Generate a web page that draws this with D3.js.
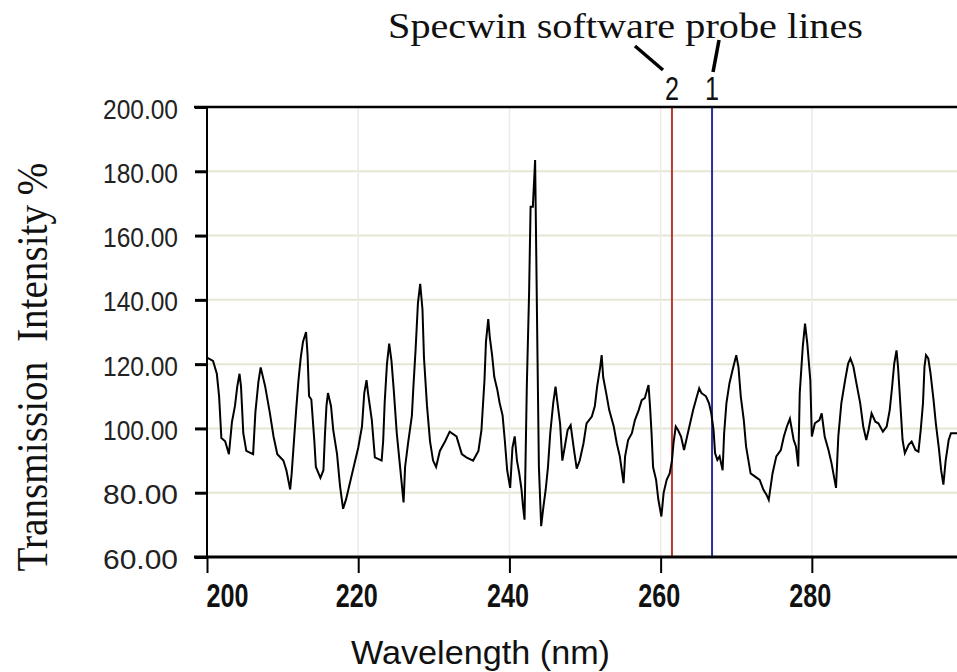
<!DOCTYPE html>
<html lang="en">
<head>
<meta charset="utf-8">
<title>Specwin transmission spectrum</title>
<script src="https://d3js.org/d3.v7.min.js"></script>
<style>
  body { margin: 0; background: #fff; }
  svg { display: block; }
</style>
</head>
<body>
<div id="chart"></div>
<script>

// spectrum (nm, %)
var wavelengths = [
  200.0,200.8,201.3,201.6,201.9,202.4,202.9,203.3,203.7,204.0,204.3,204.5,204.8,
  205.2,206.1,206.4,206.8,207.1,207.7,208.3,208.8,209.3,210.1,210.5,211.0,
  211.2,211.5,211.8,212.1,212.4,212.7,213.1,213.3,213.5,213.8,214.2,214.4,
  215.0,215.4,215.6,215.8,216.0,216.4,216.7,217.2,217.6,218.0,218.4,218.9,219.4,
  220.0,220.5,220.8,221.1,221.3,221.8,222.2,223.1,223.3,223.5,223.8,224.1,
  224.4,224.7,225.1,225.5,226.0,226.2,226.6,227.1,227.3,227.6,227.9,228.2,228.5,228.7,
  229.1,229.5,229.9,230.3,230.8,231.5,232.1,233.0,233.7,234.3,235.2,235.9,
  236.3,236.7,236.9,237.2,237.4,237.7,238.0,238.4,238.7,239.1,239.4,239.7,240.1,
  240.4,240.7,241.0,241.3,241.6,241.8,242.0,242.3,242.6,242.8,243.1,243.4,243.5,243.7,243.9,
  244.2,244.5,244.8,245.1,245.4,245.8,246.1,246.3,246.7,247.0,247.3,247.7,248.1,
  248.5,248.9,249.3,249.8,250.2,250.9,251.3,251.6,252.0,252.2,252.4,252.8,253.2,253.8,
  254.2,254.6,255.1,255.3,255.7,256.2,256.6,257.1,257.5,257.9,258.4,258.6,258.8,259.0,
  259.4,259.7,260.1,260.4,260.8,261.2,261.5,261.7,262.0,262.3,262.7,263.1,263.5,263.9,
  264.3,264.8,265.1,265.4,266.0,266.4,266.7,267.0,267.2,267.5,267.8,268.2,268.4,
  268.7,269.1,269.5,270.0,270.3,270.6,271.0,271.3,271.6,271.9,272.5,273.1,273.6,274.0,274.3,
  274.8,275.3,275.9,276.3,276.7,277.1,277.6,277.9,278.2,278.4,278.8,279.1,279.4,279.8,280.0,
  280.4,281.0,281.3,281.7,282.2,282.6,283.2,283.5,283.9,284.4,284.8,285.1,285.5,285.9,
  286.4,286.8,287.2,287.5,287.9,288.4,288.8,289.4,289.9,290.3,290.6,290.9,291.2,291.4,291.7,
  292.0,292.3,292.8,293.2,293.7,294.1,294.4,294.7,294.9,295.1,295.4,295.7,296.1,296.4,296.8,
  297.1,297.4,297.7,298.1,298.4,299.2
]
var intensity = [
  122,121,117,110,97,96,92,102,107,113,117,113,98.5,
  93,92,105,114.5,119,113,105,97.5,92,90,87,81,
  86,96,106,115,122,127,130,123,110,109,96,88,
  84.6,87,98,107,111,107,99.5,92,82,75,78,83,88,
  94,100.6,111,115,111,102.6,91,90,96,108,120,126.4,
  121,112,98.5,89,77,88,95.5,104,113,125,139,145,137,122,
  107,96,90,88,93,96,99,97.5,92,91,90,93,
  99.5,115,127,134,128.5,123,116,112,108,104,96,87,81.5,
  94,97.5,90,86,81,75.7,71.6,113,142,169,169,183.5,164,125,88,
  69.6,75.7,81,88,98.5,108,113,109,101.6,90,94,99.5,101,
  94,87.5,90,95.4,101.6,103.7,107,113,119,122.8,116,111,105.7,100.6,
  95.4,91.3,83,91.3,96.4,98.5,102.6,105.7,108.8,109.4,113.5,106.8,98.5,88,
  84,77.8,72.6,80,84,86,90,95.4,100.6,99.5,97.5,93.3,97.5,101.6,
  105.7,110,112.5,111,110,107.8,104.7,99.5,92.3,90.2,91.3,87,98.5,
  107.8,114,118,122.8,119,110,102.6,94.4,90.2,86,85,84,80.9,79.4,77.8,
  86,91.3,93.3,97.5,100.6,103,96.4,94.4,88.2,111,125.4,132.6,126.4,115,97.5,
  101.6,102.6,104.7,97.5,93.3,89.2,81.5,97.5,107.8,115,120.2,121.8,119.2,114,
  107.8,100.6,96.4,99.5,104.7,102.1,101.6,99,100.6,105.7,112.5,120.2,124.3,119.2,107.8,
  96.4,92.3,94.9,95.9,93.3,92.8,99.5,107.8,119.2,122.8,121.8,117.1,108.8,101.6,93.9,
  87,82.5,90,96.4,98.5,98.5
]

var xTicks = [200, 220, 240, 260, 280]
var yTicks = [60, 80, 100, 120, 140, 160, 180, 200]

// the two probe cursors, label 2 is the red one
var probeNm = [261.5, 266.8]
var probeLabels = ["2", "1"]
var probeColors = ["#b83a36", "#2c2f9a"]

var width = 957, height = 672
// (window.top is read-only, so no "top" here)
var plotL = 207, plotR = 957, plotT = 107, plotB = 557

var svg = d3.select("#chart").append("svg")
    .attr("width", width)
    .attr("height", height)

var x = d3.scaleLinear().domain([200, 299.2]).range([plotL, plotR])
var y = d3.scaleLinear().domain([60, 200]).range([plotB, plotT])

// grid
svg.append("g").selectAll("line")
  .data(yTicks.slice(1, -1))
  .enter().append("line")
    .attr("x1", plotL).attr("x2", plotR)
    .attr("y1", function(d) { return y(d) }).attr("y2", function(d) { return y(d) })
    .attr("stroke", "#e6e6d4")
    .attr("stroke-width", 2)
svg.append("g").selectAll("line")
  .data(xTicks.slice(1))
  .enter().append("line")
    .attr("x1", function(d) { return x(d) }).attr("x2", function(d) { return x(d) })
    .attr("y1", plotT).attr("y2", plotB)
    .attr("stroke", "#ecebe4")
    .attr("stroke-width", 1.5)

// probe lines
svg.append("g").selectAll("line")
  .data(probeNm)
  .enter().append("line")
    .attr("x1", function(d) { return x(d) }).attr("x2", function(d) { return x(d) })
    .attr("y1", plotT).attr("y2", plotB)
    .attr("stroke", function(d, i) { return probeColors[i] })
    .attr("stroke-width", 2)

// spectrum
var line = d3.line()
    .x(function(d) { return x(d[0]) })
    .y(function(d) { return y(d[1]) })
svg.append("path")
    .datum(d3.zip(wavelengths, intensity))
    .attr("d", line)
    .attr("fill", "none")
    .attr("stroke", "#000")
    .attr("stroke-width", 2)
    .attr("stroke-linejoin", "miter")

// axes
var xAxis = svg.append("g")
    .attr("transform", "translate(0," + plotB + ")")
    .call(d3.axisBottom(x).tickValues(xTicks).tickSize(16).tickSizeOuter(0).tickFormat(d3.format("d")))
xAxis.select(".domain").remove()
xAxis.selectAll(".tick line").attr("stroke", "#000").attr("stroke-width", 2)
xAxis.selectAll(".tick text")
    .attr("y", 50).attr("dy", null)
    .attr("x", function(d, i) { return i == 0 ? -1 : -2 })
    .attr("text-anchor", function(d, i) { return i == 0 ? "start" : "middle" })
    .attr("textLength", 42)
    .attr("lengthAdjust", "spacingAndGlyphs")
    .style("font-family", "'Liberation Sans', Arial, sans-serif")
    .style("font-size", "33px")
    .style("font-weight", "bold")
    .attr("fill", "#111")

var yAxis = svg.append("g")
    .attr("transform", "translate(" + plotL + ",0)")
    .call(d3.axisLeft(y).tickValues(yTicks).tickSize(12).tickSizeOuter(0).tickFormat(d3.format(".2f")))
yAxis.select(".domain").remove()
yAxis.selectAll(".tick line").attr("stroke", "#000").attr("stroke-width", 3)
yAxis.selectAll(".tick text")
    .attr("x", -29).attr("dy", null).attr("y", 11)
    .attr("textLength", 75)
    .attr("lengthAdjust", "spacingAndGlyphs")
    .style("font-family", "'Liberation Sans', Arial, sans-serif")
    .style("font-size", "27px")
    .attr("fill", "#222")

// frame lines
svg.append("line")
    .attr("x1", plotL).attr("x2", plotL).attr("y1", plotT).attr("y2", plotB)
    .attr("stroke", "#000").attr("stroke-width", 2)
svg.append("line")
    .attr("x1", plotL - 13).attr("x2", plotR).attr("y1", plotT).attr("y2", plotT)
    .attr("stroke", "#000").attr("stroke-width", 2.5)
svg.append("line")
    .attr("x1", plotL - 13).attr("x2", plotR).attr("y1", plotB).attr("y2", plotB)
    .attr("stroke", "#000").attr("stroke-width", 3)

// axis titles
svg.append("text")
    .attr("x", 351).attr("y", 664)
    .attr("textLength", 259)
    .attr("lengthAdjust", "spacingAndGlyphs")
    .style("font-family", "'Liberation Sans', Arial, sans-serif")
    .style("font-size", "33px")
    .attr("fill", "#111")
    .text("Wavelength (nm)")

svg.append("text")
    .attr("transform", "translate(47,367) rotate(-90)")
    .attr("text-anchor", "middle")
    .attr("textLength", 409)
    .attr("lengthAdjust", "spacingAndGlyphs")
    .style("font-family", "'Liberation Serif', 'Times New Roman', serif")
    .style("font-size", "44px")
    .style("white-space", "pre")
    .attr("fill", "#111")
    .text("Transmission  Intensity %")

// probe annotation
svg.append("text")
    .attr("x", 625.5).attr("y", 38)
    .attr("text-anchor", "middle")
    .attr("textLength", 475)
    .attr("lengthAdjust", "spacingAndGlyphs")
    .style("font-family", "'Liberation Serif', 'Times New Roman', serif")
    .style("font-size", "36px")
    .attr("fill", "#111")
    .text("Specwin software probe lines")

svg.append("g").selectAll("text")
  .data(probeNm)
  .enter().append("text")
    .attr("x", function(d) { return x(d) })
    .attr("y", 100)
    .attr("text-anchor", "middle")
    .attr("textLength", 14)
    .attr("lengthAdjust", "spacingAndGlyphs")
    .style("font-family", "'Liberation Sans', Arial, sans-serif")
    .style("font-size", "34px")
    .attr("fill", "#111")
    .text(function(d, i) { return probeLabels[i] })

// leader strokes from the caption down to the labels
var leaders = [[-37, 46, -9, 70], [7, 40, 1, 72]]
svg.append("g").selectAll("line")
  .data(probeNm)
  .enter().append("line")
    .attr("x1", function(d, i) { return x(d) + leaders[i][0] })
    .attr("y1", function(d, i) { return leaders[i][1] })
    .attr("x2", function(d, i) { return x(d) + leaders[i][2] })
    .attr("y2", function(d, i) { return leaders[i][3] })
    .attr("stroke", "#000")
    .attr("stroke-width", 3.5)

</script>
</body>
</html>
